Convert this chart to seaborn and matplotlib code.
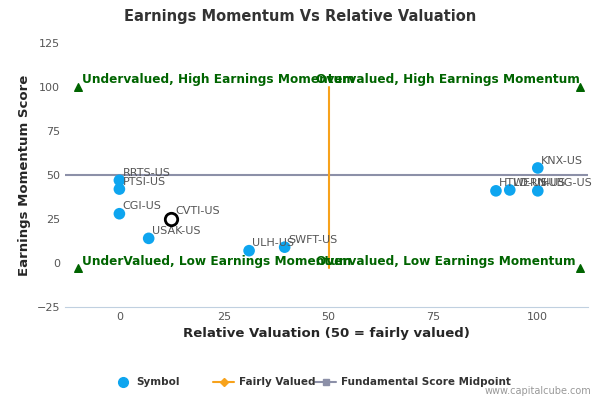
import matplotlib
matplotlib.use("Agg")
import matplotlib.pyplot as plt
import seaborn as sns
import pandas as pd

symbols = ["RRTS-US", "PTSI-US", "CGI-US", "USAK-US", "ULH-US", "SWFT-US",
           "HTLD-US", "WERN-US", "HUBG-US", "KNX-US"]
valuation = [0, 0, 0, 7, 31, 39.5, 90, 93.3, 100, 100]
momentum = [47, 42, 28, 14, 7, 9, 41, 41.5, 41, 54]
focus_symbol = "CVTI-US"
focus_val, focus_mom = 12.4, 25
corner_x = [-10, 110, -10, 110]
corner_y = [100, 100, -3, -3]

df = pd.DataFrame({"Symbol": symbols, "val": valuation, "mom": momentum})

sns.set_style("white")
fig = plt.figure(figsize=(6, 4), dpi=100)
ax = fig.add_axes([65/600, 93/400, 523/600, 264/400])

green = "#006400"
ax.plot([-13, 112], [50, 50], color="#8c90a8", lw=1.5, zorder=1)
ax.plot([50, 50], [-3, 100], color="#f7a21b", lw=1.5, zorder=1)
ax.scatter(corner_x, corner_y, marker="^", color=green, s=30, zorder=2)

sns.scatterplot(data=df, x="val", y="mom", color="#0ea5ef", s=70, edgecolor="none", ax=ax, zorder=3)
ax.scatter([focus_val], [focus_mom], s=80, facecolor="white", edgecolor="black", lw=2, zorder=4)

for s, x, y in zip(symbols, valuation, momentum):
    ax.text(x + 0.8, y + 2.5, s, fontsize=8, color="#555555")
ax.text(focus_val + 1, focus_mom + 3, focus_symbol, fontsize=8, color="#555555")

kw = dict(fontsize=8.7, color=green, fontweight="bold")
ax.text(-9, 102, "Undervalued, High Earnings Momentum", **kw)
ax.text(47, 102, "Overvalued, High Earnings Momentum", **kw)
ax.text(-9, -1, "UnderValued, Low Earnings Momentum", **kw)
ax.text(47, -1, "Overvalued, Low Earnings Momentum", **kw)

ax.set_xlim(-13, 112)
ax.set_ylim(-25, 125)
ax.set_xticks([0, 25, 50, 75, 100])
ax.set_yticks([-25, 0, 25, 50, 75, 100, 125])
ax.tick_params(labelsize=8, colors="#555555", length=0)
for sp in ["top", "right", "left"]:
    ax.spines[sp].set_visible(False)
ax.spines["bottom"].set_color("#c0d0e0")
ax.set_xlabel("Relative Valuation (50 = fairly valued)", fontsize=9.5, fontweight="bold")
ax.set_ylabel("Earnings Momentum Score", fontsize=9.5, fontweight="bold")
fig.text(0.5, 0.948, "Earnings Momentum Vs Relative Valuation", ha="center", fontsize=10.5,
         fontweight="bold", color="#333333")

# legend
ly = 0.045
fig.lines.append(plt.Line2D([0.205], [ly], marker="o", color="#0ea5ef", ms=7, transform=fig.transFigure))
fig.text(0.227, ly, "Symbol", fontsize=7.5, fontweight="bold", va="center", color="#333333")
fig.lines.append(plt.Line2D([0.355, 0.39], [ly, ly], color="#f7a21b", transform=fig.transFigure))
fig.lines.append(plt.Line2D([0.3725], [ly], color="#f7a21b", marker="D", ms=4, transform=fig.transFigure))
fig.text(0.398, ly, "Fairly Valued", fontsize=7.5, fontweight="bold", va="center", color="#333333")
fig.lines.append(plt.Line2D([0.525, 0.56], [ly, ly], color="#8c90a8", transform=fig.transFigure))
fig.lines.append(plt.Line2D([0.5425], [ly], color="#8c90a8", marker="s", ms=5, transform=fig.transFigure))
fig.text(0.568, ly, "Fundamental Score Midpoint", fontsize=7.5, fontweight="bold", va="center", color="#333333")
fig.text(0.985, 0.015, "www.capitalcube.com", fontsize=7, ha="right", color="#999999")

fig.savefig("out.png", dpi=100)
